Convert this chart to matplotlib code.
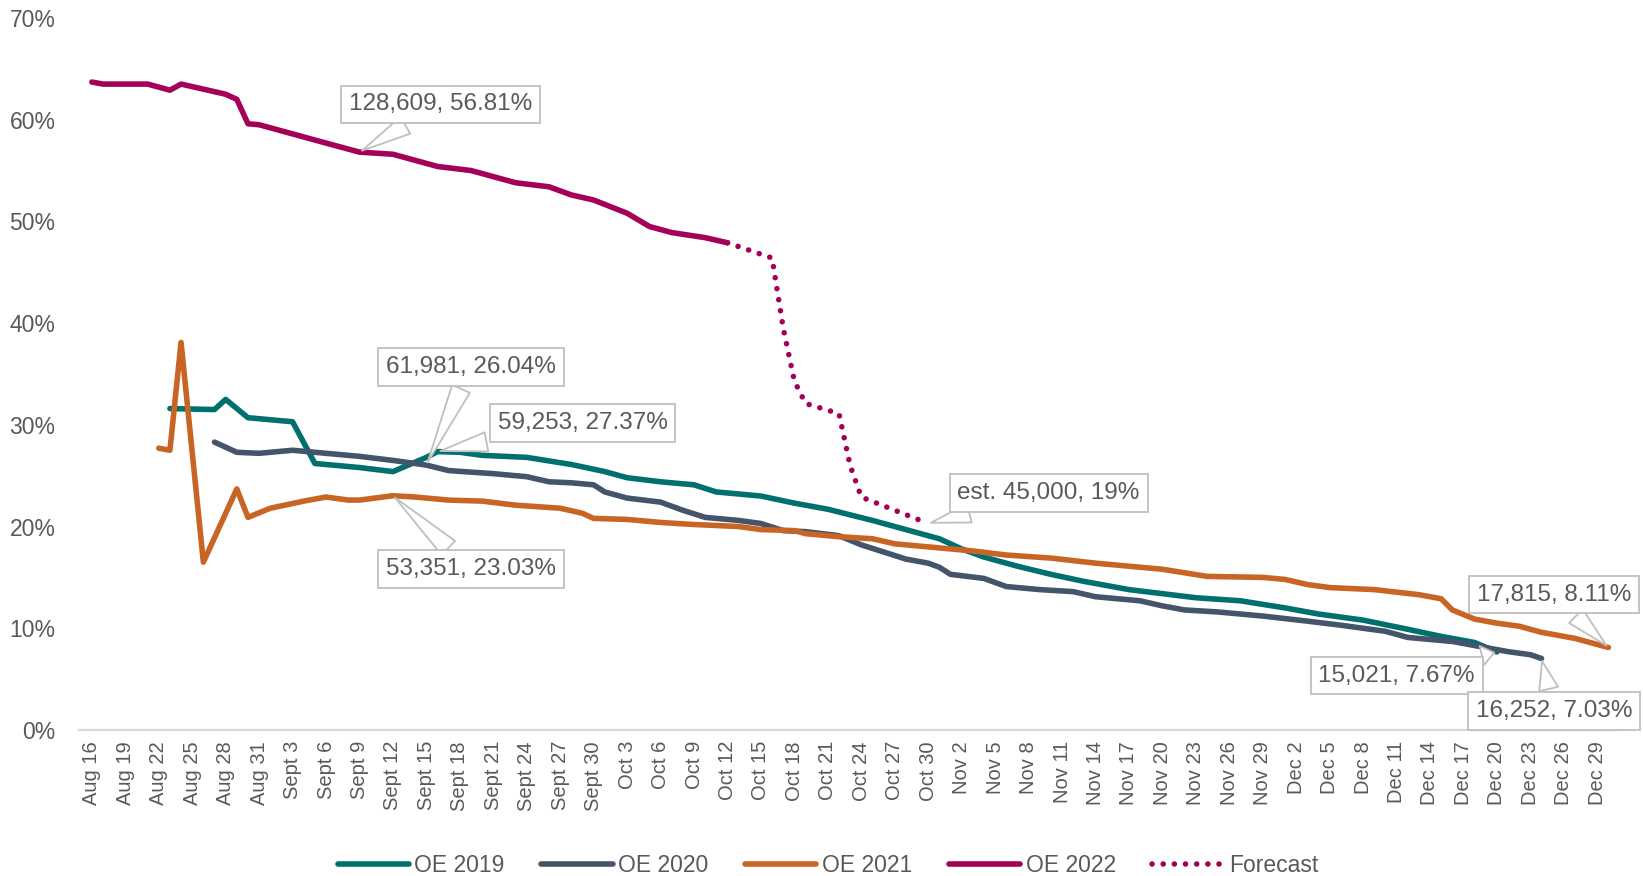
import matplotlib
matplotlib.use("Agg")
import matplotlib.pyplot as plt
import pandas as pd

START = pd.Timestamp("2022-08-16")

# OE 2019 (teal)
oe2019_dates = ["08-23", "08-27", "08-28", "08-30", "09-03", "09-05", "09-09", "09-12", "09-15", "09-16",
                "09-18", "09-20", "09-24", "09-28", "10-01", "10-03", "10-06", "10-09", "10-11", "10-15",
                "10-18", "10-21", "10-25", "10-28", "10-31", "11-02", "11-04", "11-07", "11-10", "11-13",
                "11-17", "11-20", "11-23", "11-27", "12-01", "12-04", "12-08", "12-12", "12-15", "12-18", "12-20"]
oe2019_vals = [31.6, 31.5, 32.5, 30.7, 30.3, 26.2, 25.8, 25.4, 26.8, 27.37,
               27.3, 27.0, 26.8, 26.1, 25.4, 24.8, 24.4, 24.1, 23.4, 23.0,
               22.3, 21.7, 20.6, 19.7, 18.8, 17.8, 17.0, 16.1, 15.3, 14.6,
               13.8, 13.4, 13.0, 12.7, 12.0, 11.4, 10.8, 9.9, 9.2, 8.6, 7.67]

# OE 2020 (slate)
oe2020_dates = ["08-27", "08-29", "08-31", "09-03", "09-05", "09-09", "09-12", "09-15", "09-17", "09-21",
                "09-24", "09-26", "09-28", "09-30", "10-01", "10-03", "10-06", "10-08", "10-10", "10-13",
                "10-15", "10-17", "10-19", "10-22", "10-24", "10-26", "10-28", "10-30", "10-31", "11-01",
                "11-04", "11-06", "11-09", "11-12", "11-14", "11-18", "11-20", "11-22", "11-25", "11-29",
                "12-03", "12-06", "12-10", "12-12", "12-16", "12-19", "12-21", "12-23", "12-24"]
oe2020_vals = [28.3, 27.3, 27.2, 27.5, 27.3, 26.9, 26.5, 26.04, 25.5, 25.2,
               24.9, 24.4, 24.3, 24.1, 23.4, 22.8, 22.4, 21.6, 20.9, 20.6,
               20.3, 19.6, 19.5, 19.1, 18.2, 17.5, 16.8, 16.4, 16.0, 15.3,
               14.9, 14.1, 13.8, 13.6, 13.1, 12.7, 12.2, 11.8, 11.6, 11.2,
               10.7, 10.3, 9.7, 9.1, 8.7, 8.1, 7.7, 7.4, 7.03]

# OE 2021 (orange)
oe2021_dates = ["08-22", "08-23", "08-24", "08-26", "08-29", "08-30", "09-01", "09-04", "09-06", "09-08",
                "09-09", "09-12", "09-14", "09-17", "09-20", "09-23", "09-27", "09-29", "09-30", "10-03",
                "10-06", "10-09", "10-13", "10-15", "10-18", "10-19", "10-22", "10-25", "10-27", "10-30",
                "11-03", "11-06", "11-10", "11-14", "11-17", "11-20", "11-24", "11-29", "12-01", "12-03",
                "12-05", "12-09", "12-13", "12-15", "12-16", "12-18", "12-20", "12-22", "12-24", "12-27", "12-30"]
oe2021_vals = [27.7, 27.5, 38.1, 16.5, 23.7, 20.9, 21.8, 22.5, 22.9, 22.6,
               22.6, 23.03, 22.9, 22.6, 22.5, 22.1, 21.8, 21.3, 20.8, 20.7,
               20.4, 20.2, 20.0, 19.7, 19.6, 19.3, 19.0, 18.8, 18.3, 18.0,
               17.6, 17.2, 16.9, 16.4, 16.1, 15.8, 15.1, 15.0, 14.8, 14.3,
               14.0, 13.8, 13.3, 12.9, 11.8, 10.9, 10.5, 10.2, 9.6, 9.0, 8.11]

# OE 2022 (magenta)
oe2022_dates = ["08-16", "08-17", "08-21", "08-23", "08-24", "08-28", "08-29", "08-30", "08-31", "09-06",
                "09-09", "09-12", "09-16", "09-19", "09-23", "09-26", "09-28", "09-30", "10-03", "10-05",
                "10-07", "10-10", "10-12"]
oe2022_vals = [63.7, 63.5, 63.5, 62.9, 63.5, 62.5, 62.0, 59.6, 59.5, 57.7,
               56.81, 56.6, 55.4, 55.0, 53.8, 53.4, 52.6, 52.1, 50.8, 49.5,
               48.9, 48.4, 47.9]

# Forecast (dotted)
forecast_dates = ["10-12", "10-16", "10-17", "10-18", "10-19", "10-22", "10-23", "10-24", "10-30"]
forecast_vals = [47.9, 46.4, 39.5, 34.3, 32.1, 31.1, 26.0, 22.9, 20.3]

# callouts: text, point date, point value, box centre (day, pct)
callouts = [
    ("128,609, 56.81%", "09-09", 56.81, 31.3, 61.5),
    ("61,981, 26.04%", "09-15", 26.04, 34.0, 35.7),
    ("59,253, 27.37%", "09-16", 27.37, 44.0, 30.2),
    ("53,351, 23.03%", "09-12", 23.03, 34.0, 15.8),
    ("est. 45,000, 19%", "10-30", 20.3, 85.8, 23.3),
    ("17,815, 8.11%", "12-30", 8.11, 131.1, 13.3),
    ("15,021, 7.67%", "12-20", 7.67, 117.0, 5.35),
    ("16,252, 7.03%", "12-24", 7.03, 131.1, 1.85),
]

MONTHS = {8: "Aug", 9: "Sept", 10: "Oct", 11: "Nov", 12: "Dec"}
GREY = "#595959"
FONT = "Liberation Sans"


def to_days(dates):
    return [(pd.Timestamp("2022-" + d) - START).days for d in dates]


plt.rcParams["font.family"] = [FONT, "DejaVu Sans"]

fig = plt.figure(figsize=(16.43, 8.76), dpi=100)
ax = fig.add_axes([0.0481, 0.1667, 0.9373, 0.8128])

lw = 4.0
ax.plot(to_days(oe2019_dates), oe2019_vals, color="#00706E", lw=lw, label="OE 2019", solid_capstyle="round")
ax.plot(to_days(oe2020_dates), oe2020_vals, color="#44546A", lw=lw, label="OE 2020", solid_capstyle="round")
ax.plot(to_days(oe2021_dates), oe2021_vals, color="#C86424", lw=lw, label="OE 2021", solid_capstyle="round")
ax.plot(to_days(oe2022_dates), oe2022_vals, color="#A50057", lw=lw, label="OE 2022", solid_capstyle="round")
ax.plot(to_days(forecast_dates), forecast_vals, color="#A50057", lw=lw, label="Forecast",
        linestyle=(0, (0.01, 2.0)), dash_capstyle="round")

tick_days = list(range(0, 136, 3))
tick_dates = [START + pd.Timedelta(days=d) for d in tick_days]
tick_labels = [f"{MONTHS[t.month]} {t.day}" for t in tick_dates]
ax.set_xticks(tick_days)
ax.set_xticklabels(tick_labels, rotation=90, fontsize=14.5, color=GREY)
ax.set_xlim(-1.15, 136.95)

ax.set_ylim(0, 70)
ax.set_yticks(range(0, 71, 10))
ax.set_yticklabels([f"{v}%" for v in range(0, 71, 10)], fontsize=16.5, color=GREY)
ax.tick_params(axis="both", length=0)
ax.tick_params(axis="y", pad=17)
ax.tick_params(axis="x", pad=8)

for side in ["left", "right", "top"]:
    ax.spines[side].set_visible(False)
ax.spines["bottom"].set_color("#D9D9D9")
ax.spines["bottom"].set_linewidth(1.6)

for text, d, v, bx, by in callouts:
    ax.annotate(text, xy=(to_days([d])[0], v), xytext=(bx, by), ha="center", va="center",
                fontsize=17.5, color=GREY, zorder=5,
                bbox=dict(boxstyle="square,pad=0.32", fc="white", ec="#BFBFBF", lw=1.3),
                arrowprops=dict(arrowstyle="wedge,tail_width=0.8,shrink_factor=0.5",
                                fc="white", ec="#BFBFBF", lw=1.3))

fig.legend(loc="center", bbox_to_anchor=(0.504, 0.012), ncol=5, frameon=False,
           fontsize=16.5, labelcolor=GREY, handlelength=3.1, columnspacing=1.6, handletextpad=0.25)

fig.savefig("out.png", dpi=100)
